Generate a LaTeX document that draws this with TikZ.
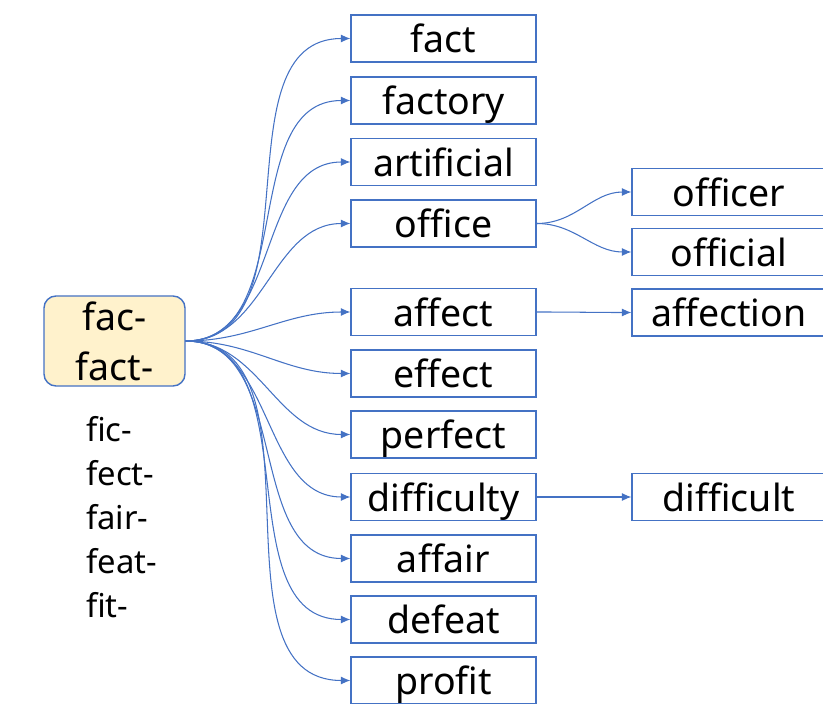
\documentclass[tikz,border=0pt]{standalone}
\usepackage{fontspec}
\setmainfont{Noto Sans}
\usetikzlibrary{arrows.meta}
\definecolor{linkblue}{HTML}{4472C4}
\definecolor{rootfill}{HTML}{FFF2CC}
\tikzset{
  wordbox/.style={draw=linkblue, line width=1.2pt, minimum width=55.5mm, minimum height=14.1mm,
                  inner sep=0pt, text height=24.5pt, text depth=0pt, font=\fontsize{32}{38}\selectfont},
  sidebox/.style={wordbox, minimum width=58.2mm},
  rootbox/.style={draw=linkblue, fill=rootfill, line width=1.2pt, rounded corners=3.6mm,
                  minimum width=42.3mm, minimum height=27mm, align=center,
                  font=\fontsize{32}{42.7}\selectfont},
  stem/.style={font=\fontsize{28}{30}\selectfont, inner sep=0pt, anchor=base west},
  link/.style={draw=linkblue, line width=0.9pt, -{Latex[length=2.8mm,width=2.4mm]}},
}

\begin{document}
\begin{tikzpicture}[x=0.3mm, y=-0.3mm]
    \useasboundingbox (0,0) rectangle (823,704);
    \node[rootbox] (root) at (114.5, 341) {fac-\\fact-};
    \foreach \s [count=\i] in {fic-,fect-,fair-,feat-,fit-}
      \node[stem] (stem\i) at (86, 397+44*\i) {\s};
    % middle column
    \node[wordbox] (fact) at (443.5, 38.5) {fact};
    \node[wordbox] (factory) at (443.5, 100.5) {factory};
    \node[wordbox] (artificial) at (443.5, 162) {artificial};
    \node[wordbox] (office) at (443.5, 223.5) {office};
    \node[wordbox] (affect) at (443.5, 312) {affect};
    \node[wordbox] (effect) at (443.5, 373.5) {effect};
    \node[wordbox] (perfect) at (443.5, 434.5) {perfect};
    \node[wordbox] (difficulty) at (443.5, 497) {difficulty};
    \node[wordbox] (affair) at (443.5, 558.5) {affair};
    \node[wordbox] (defeat) at (443.5, 619.5) {defeat};
    \node[wordbox] (profit) at (443.5, 680.5) {profit};
    % right column
    \node[sidebox] (officer) at (729, 192) {officer};
    \node[sidebox] (official) at (729, 252) {official};
    \node[sidebox] (affection) at (729, 312.5) {affection};
    \node[sidebox] (difficult) at (729, 497) {difficult};
    \foreach \w in {fact,factory,artificial,office,affect,effect,perfect,difficulty,affair,defeat,profit}
      \draw[link] (root.east) to[out=0, in=180] (\w.west);
    \draw[link] (office.east) to[out=0, in=180] (officer.west);
    \draw[link] (office.east) to[out=0, in=180] (official.west);
    \draw[link] (affect.east) to[out=0, in=180] (affection.west);
    \draw[link] (difficulty.east) -- (difficult.west);
\end{tikzpicture}
\end{document}
